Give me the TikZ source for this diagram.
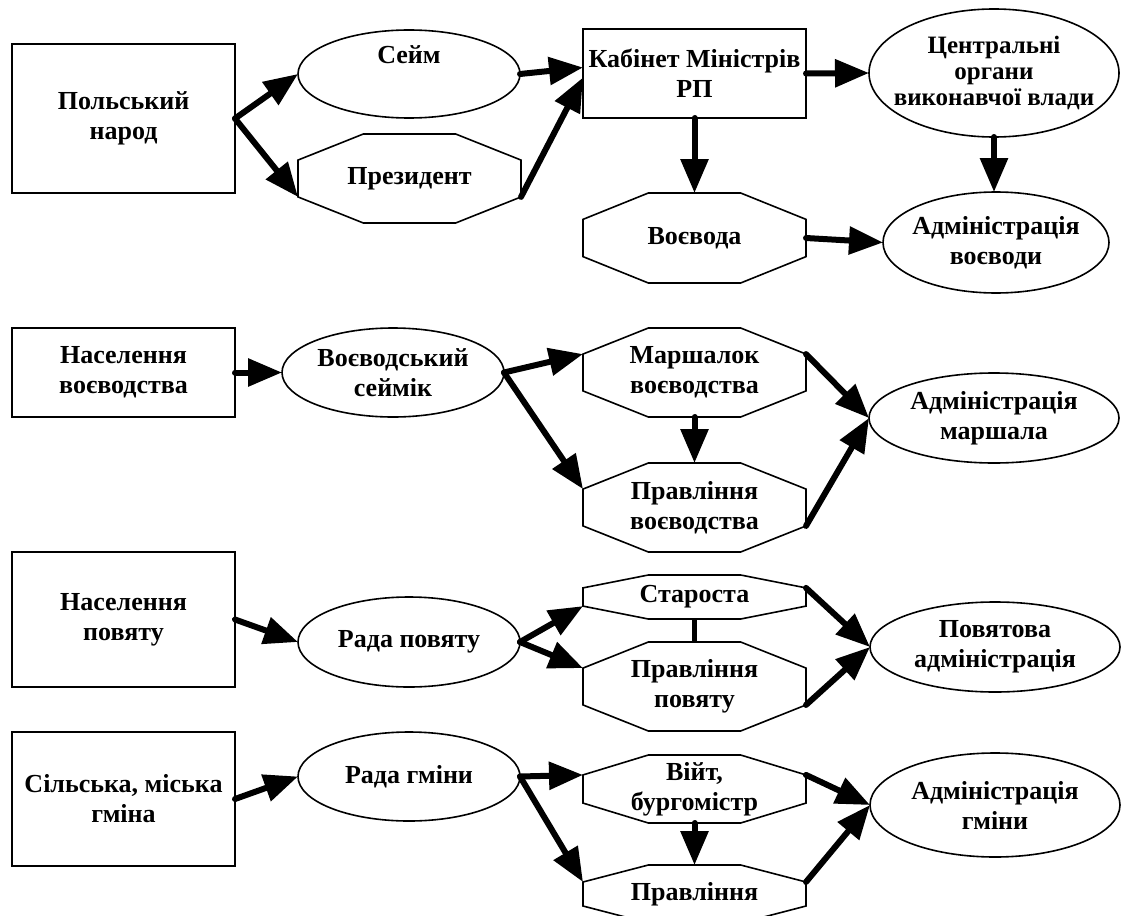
\documentclass[tikz,border=0pt]{standalone}
\usepackage{fontspec}
\setmainfont{Liberation Serif}
\usetikzlibrary{arrows.meta,calc,shapes.geometric}

\begin{document}
\begin{tikzpicture}[x=1pt, y=-1pt,
  every node/.style={font=\bfseries\fontsize{26}{30}\selectfont, align=center, inner sep=0pt, outer sep=0pt},
  pryam/.style={draw, line width=1.6pt, minimum width=223pt, minimum height=#1},
  oval/.style={draw, ellipse, line width=1.6pt, inner xsep=-80pt, inner ysep=-30pt, minimum width=222pt, minimum height=#1},
  vosm/.style={rectangle, minimum width=223pt, minimum height=#1},
  kontur/.style={line width=1.6pt},
  strilka/.style={line width=6pt, line cap=round, -{Triangle[length=34pt, width=27pt]}}]

% Поле рисунка
\useasboundingbox (0,0) rectangle (1121,915);
\clip (0,0) rectangle (1121,915);

% Центральний рівень
\node[pryam=149pt] (nar) at (123.5,118.5) {Польський\\народ};
\node[oval=88pt] (sejm) at (409,74) {Сейм\\\strut};
\node[vosm=89pt] (prez) at (409.5,178.5) {Президент};
\node[pryam=89pt] (kab) at (694.5,73.5) {Кабінет Міністрів\\РП};
\node[oval=128pt, minimum width=250pt, font=\bfseries\fontsize{25}{26}\selectfont] (centr) at (994,73) {Центральні\\органи\\виконавчої влади};
\node[vosm=90pt] (voev) at (694.5,238) {Воєвода};
\node[oval=101pt, minimum width=226pt] (admv) at (996,242.5) {Адміністрація\\воєводи};

% Воєводство
\node[pryam=89pt] (nasv) at (123.5,372.5) {Населення\\воєводства};
\node[oval=89pt] (sejmik) at (393,372.5) {Воєводський\\сеймік};
\node[vosm=89pt] (mars) at (694.5,372.5) {Маршалок\\воєводства};
\node[vosm=89pt] (prvv) at (694.5,507.5) {Правління\\воєводства};
\node[oval=90pt, minimum width=250pt] (admm) at (994,418) {Адміністрація\\маршала};

% Повят
\node[pryam=135pt] (nasp) at (123.5,619.5) {Населення\\повяту};
\node[oval=90pt] (radap) at (409,642) {Рада повяту};
\node[vosm=44pt] (star) at (694.5,597) {Староста};
\node[vosm=89pt] (prvp) at (694.5,686.5) {Правління\\повяту};
\node[oval=90pt, minimum width=250pt] (admp) at (995,647) {Повятова\\адміністрація};

% Гміна
\node[pryam=134pt] (gm) at (123.5,799) {Сільська, міська\\гміна};
\node[oval=89pt] (radag) at (409,776.5) {Рада гміни};
\node[vosm=68pt] (vijt) at (694.5,789) {Війт,\\бургомістр};
\node[vosm=58pt] (prvg) at (694.5,894) {Правління};
\node[oval=104pt, minimum width=250pt] (admg) at (995,805) {Адміністрація\\гміни};

% Восьмикутники
\foreach \n in {prez,voev,mars,prvv,star,prvp,vijt,prvg} {
  \coordinate (\n-wn) at ($(\n.north west)!.293!(\n.south west)$);
  \coordinate (\n-ws) at ($(\n.north west)!.707!(\n.south west)$);
  \coordinate (\n-en) at ($(\n.north east)!.293!(\n.south east)$);
  \coordinate (\n-es) at ($(\n.north east)!.707!(\n.south east)$);
  \draw[kontur] (\n-wn) -- ($(\n.north west)!.293!(\n.north east)$)
    -- ($(\n.north west)!.707!(\n.north east)$) -- (\n-en) -- (\n-es)
    -- ($(\n.south west)!.707!(\n.south east)$)
    -- ($(\n.south west)!.293!(\n.south east)$) -- (\n-ws) -- cycle;
}

% Зв'язки
\draw[strilka] (nar.east) -- (sejm.west);
\draw[strilka] (nar.east) -- (prez-ws);
\draw[strilka] (sejm.east) -- ([yshift=6pt]kab.west);
\draw[strilka] (prez-es) -- ([yshift=-4pt]kab.west);
\draw[strilka] (kab.east) -- (centr.west);
\draw[strilka] (kab.south) -- (voev.north);
\draw[strilka] (centr.south) -- (centr.south |- admv.north);
\draw[strilka] (voev.east) -- (admv.west);

\draw[strilka] (nasv.east) -- (sejmik.west);
\draw[strilka] (sejmik.east) -- (mars-wn);
\draw[strilka] (sejmik.east) -- (prvv-wn);
\draw[strilka] (mars.south) -- (prvv.north);
\draw[strilka] (mars-en) -- (admm.west);
\draw[strilka] (prvv-es) -- (admm.west);

\draw[strilka] (nasp.east) -- (radap.west);
\draw[strilka] (radap.east) -- (star-ws);
\draw[strilka] (radap.east) -- (prvp-wn);
\draw[line width=4.5pt] (star.south) -- (prvp.north);
\draw[strilka] (star-en) -- (admp.west);
\draw[strilka] (prvp-es) -- (admp.west);

\draw[strilka] (gm.east) -- (radag.west);
\draw[strilka] (radag.east) -- (vijt-wn);
\draw[strilka] (radag.east) -- (prvg-wn);
\draw[strilka] (vijt.south) -- (prvg.north);
\draw[strilka] (vijt-en) -- (admg.west);
\draw[strilka] (prvg-en) -- (admg.west);

\end{tikzpicture}
\end{document}
